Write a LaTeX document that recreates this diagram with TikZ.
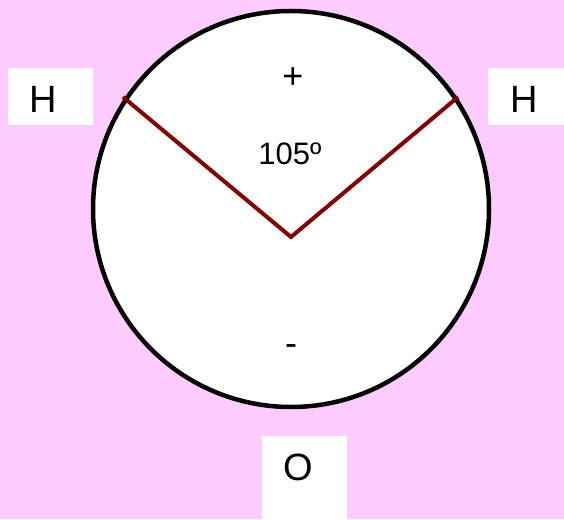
\documentclass[tikz,border=0pt]{standalone}
\usepackage{fontspec}
\setmainfont{Liberation Sans}
\usepackage{tikz}
\definecolor{pinkbg}{HTML}{FFCCFF}
\definecolor{bond}{HTML}{800000}
\newcommand{\atomfont}{\fontsize{38}{44}\selectfont}

\begin{document}
\begin{tikzpicture}[x=1pt,y=1pt,
      atombox/.style={fill=white,minimum width=85pt,minimum height=57pt,inner sep=0pt},
      atom/.style={font=\atomfont,inner sep=0pt},
      charge/.style={font=\fontsize{36}{40}\selectfont,inner sep=0pt},
      bondline/.style={bond,line width=4pt}]
      \fill[pinkbg] (0,0) rectangle (564,519);
      \useasboundingbox (0,0) rectangle (564,519);
      \node[circle,draw,line width=4.5pt,fill=white,minimum size=396pt,inner sep=0pt] (cloud) at (291,310) {};
      \node[atombox] (hleft) at (50.5,422.5) {};
      \node[atombox] (hright) at (530.5,422.5) {};
      \node[atombox,minimum height=83pt] (oxy) at (304.5,41.5) {};
      \node[atom] (hlefttxt) at (43.5,420) {H};
      \node[atom] (hrighttxt) at (524.5,420) {H};
      \node[atom] (oxytxt) at (298,52) {O};
      \node[charge] (plus) at (293,441) {+};
      \node[charge,font=\fontsize{31}{36}\selectfont] (angle) at (290,365) {105º};
      \node[charge] (minus) at (291,169) {-};
      \coordinate (vertex) at (291,282);
      \coordinate (endleft) at (123,422);
      \coordinate (endright) at (458,422);
      \draw[bondline] (endleft)--(vertex)--(endright);
    \end{tikzpicture}
\end{document}
